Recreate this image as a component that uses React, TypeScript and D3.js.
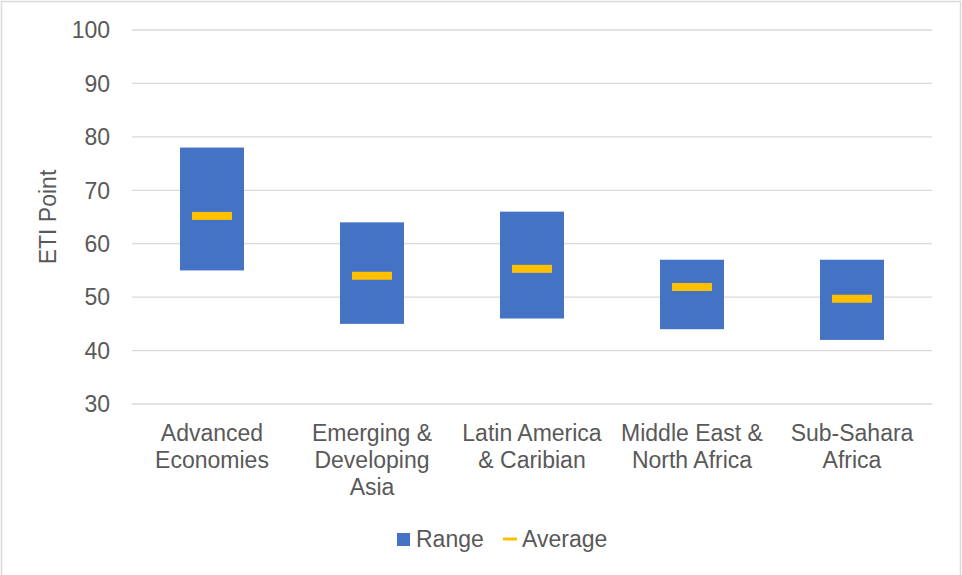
import React from "react";
import * as d3 from "d3";

const categories: string[][] = [
  ["Advanced", "Economies"],
  ["Emerging &", "Developing", "Asia"],
  ["Latin America", "& Caribian"],
  ["Middle East &", "North Africa"],
  ["Sub-Sahara", "Africa"],
];
const rangeLow = [55, 45, 46, 44, 42];
const rangeHigh = [78, 64, 66, 57, 57];
const averages = [65.2, 54.0, 55.3, 51.9, 49.7];
const yTicks = [30, 40, 50, 60, 70, 80, 90, 100];

const W = 962;
const H = 575;
const left = 132;
const right = 932;
const top = 30;
const bottom = 404;

const FONT = "'Liberation Sans', Arial, sans-serif";
const FS = 23;
const TEXT = "#595959";
const BLUE = "#4472C4";
const GOLD = "#FFC000";

export default function App() {
  const ids = categories.map((_, i) => String(i));
  const x = d3.scaleBand<string>().domain(ids).range([left, right]).paddingInner(0).paddingOuter(0);
  const y = d3.scaleLinear().domain([30, 100]).range([bottom, top]);
  const barW = x.bandwidth() * 0.4;
  const avgW = 40;
  const avgH = 8;

  return (
    <svg
      width={W}
      height={H}
      style={{ position: "absolute", left: 0, top: 0, background: "#fff" }}
      fontFamily={FONT}
    >
      <rect x={1.5} y={1.5} width={959} height={580} fill="#fff" stroke="#d9d9d9" strokeWidth={1.5} />
      {yTicks.map((t) => (
        <g key={t}>
          <line x1={left} x2={right} y1={y(t)} y2={y(t)} stroke="#d9d9d9" strokeWidth={1.3} />
          <text x={110} y={y(t)} dy="0.36em" textAnchor="end" fontSize={FS} fill={TEXT}>
            {t}
          </text>
        </g>
      ))}
      <text
        transform={`translate(56,217) rotate(-90)`}
        textAnchor="middle"
        fontSize={FS}
        fill={TEXT}
      >
        ETI Point
      </text>
      {ids.map((id, i) => {
        const cx = (x(id) as number) + x.bandwidth() / 2;
        return (
          <g key={id}>
            <rect
              x={cx - barW / 2}
              y={y(rangeHigh[i])}
              width={barW}
              height={y(rangeLow[i]) - y(rangeHigh[i])}
              fill={BLUE}
            />
            <rect x={cx - avgW / 2} y={y(averages[i]) - avgH / 2} width={avgW} height={avgH} fill={GOLD} />
            <text textAnchor="middle" fontSize={FS} fill={TEXT}>
              {categories[i].map((line, j) => (
                <tspan key={j} x={cx} y={441 + j * 27}>
                  {line}
                </tspan>
              ))}
            </text>
          </g>
        );
      })}
      <g>
        <rect x={397} y={533} width={13} height={13} fill={BLUE} />
        <text x={416} y={547} fontSize={FS} fill={TEXT}>
          Range
        </text>
        <line x1={503} x2={517} y1={539} y2={539} stroke={GOLD} strokeWidth={3} />
        <text x={522} y={547} fontSize={FS} fill={TEXT}>
          Average
        </text>
      </g>
    </svg>
  );
}
